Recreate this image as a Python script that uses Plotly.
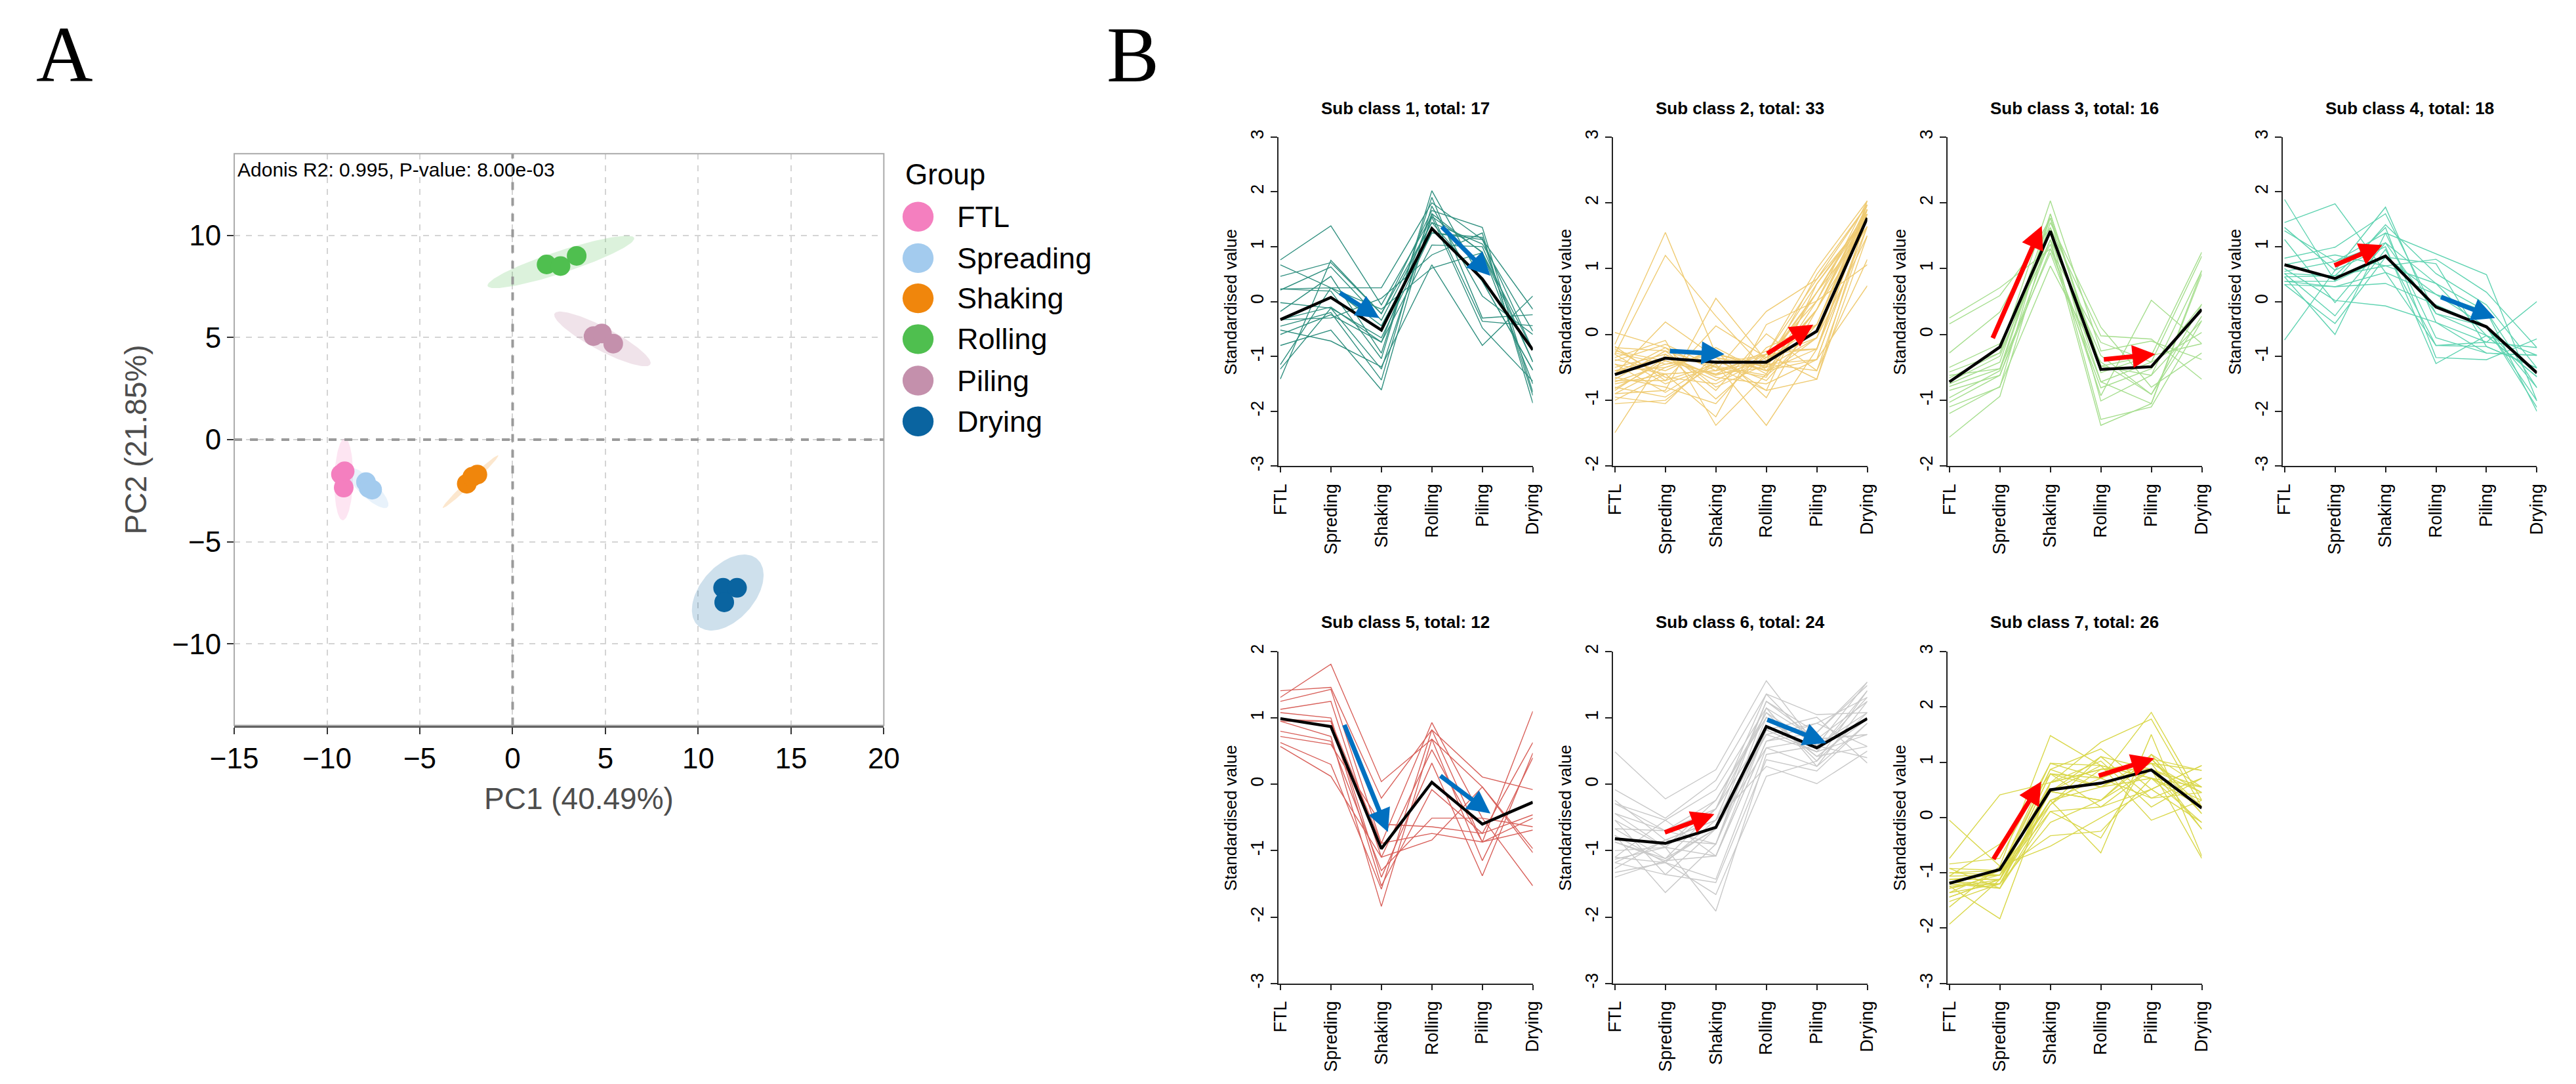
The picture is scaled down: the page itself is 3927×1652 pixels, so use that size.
import numpy as np
import plotly.graph_objects as go

W, H = 3927, 1652
# the page body keeps its default 8px margin, so the figure is drawn a bit smaller
PAD = 8
FW, FH = W - 2 * PAD, H - 2 * PAD

# ---------------- panel A : PCA ----------------
groups = ["FTL", "Spreading", "Shaking", "Rolling", "Piling", "Drying"]
group_colors = ["#F47FBF", "#A3CBEE", "#F0860C", "#4FBF4F", "#C490AC", "#0A64A0"]
group_fills = ["rgba(244,127,191,0.20)", "rgba(163,203,238,0.25)", "rgba(240,134,12,0.20)",
               "rgba(79,191,79,0.20)", "rgba(196,144,172,0.25)", "rgba(10,100,160,0.20)"]
pc1_scores = [[-9.25, -9.1, -9.05], [-7.9, -7.75, -7.57], [-2.47, -2.17, -1.9],
              [1.83, 2.58, 3.45], [4.36, 4.81, 5.42], [11.34, 12.09, 11.4]]
pc2_scores = [[-1.7, -2.35, -1.55], [-2.08, -2.37, -2.45], [-2.16, -1.82, -1.71],
              [8.58, 8.5, 9.0], [5.07, 5.2, 4.7], [-7.26, -7.26, -7.97]]
# confidence ellipses: centre, half major axis vector, half minor axis vector (data units)
ell_center = [(-9.1, -1.95), (-7.83, -2.35), (-2.27, -2.06), (2.6, 8.7), (4.84, 4.93), (11.59, -7.49)]
ell_major = [(0.05, 2.0), (1.06, -0.98), (1.49, 1.29), (3.94, 1.19), (2.56, -1.27), (1.32, 1.79)]
ell_minor = [(0.5, 0.0), (0.42, 0.22), (0.15, -0.08), (0.3, -0.48), (0.44, 0.43), (1.41, -0.51)]
pc1_label = "PC1 (40.49%)"
pc2_label = "PC2 (21.85%)"
adonis_text = "Adonis R2: 0.995, P-value: 8.00e-03"

# ---------------- panel B : sub classes ----------------
stages = ["FTL", "Spreding", "Shaking", "Rolling", "Piling", "Drying"]
sub_titles = ["Sub class 1, total: 17", "Sub class 2, total: 33", "Sub class 3, total: 16",
              "Sub class 4, total: 18", "Sub class 5, total: 12", "Sub class 6, total: 24",
              "Sub class 7, total: 26"]
sub_colors = ["#2F8F7F", "#EFCB73", "#A6DE8E", "#5FD3B1", "#D8605A", "#C8C8C8", "#D9D74A"]
sub_yrange = [(-3, 3), (-2, 3), (-2, 3), (-3, 3), (-3, 2), (-3, 2), (-3, 3)]

sub1_lines = [
    [0.76, 1.38, -0.06, 1.55, 0.9, -1.5], [0.67, 0.25, 0.25, 1.80, 1.13, -0.14],
    [0.46, 0.71, -0.22, 1.66, 1.35, -1.65], [0.23, 0.19, -1.04, 2.02, 0.37, -1.25],
    [0.21, 0.63, -0.34, 1.44, 1.05, -0.54], [-0.02, -0.12, -0.66, 1.25, 1.17, -1.71],
    [-0.18, 0.46, -0.94, 1.90, -0.30, -0.24], [-0.33, -0.30, 0.06, 0.85, 1.25, -1.85],
    [-0.45, -0.20, -1.43, 1.74, 0.10, -0.60], [-0.52, -0.72, -1.19, 0.67, -0.80, 0.10],
    [-0.60, -0.24, -0.74, 1.03, 1.00, -1.10], [-0.80, -0.52, -1.61, 1.60, -0.36, -0.44],
    [-1.15, 0.25, -0.14, 0.61, 0.89, -0.88], [-1.23, -0.12, -1.23, 1.54, -0.48, -1.45],
    [-1.41, 0.75, -0.22, 1.44, 0.37, -1.25], [0.23, 0.25, -0.44, 1.25, 1.13, -0.88],
    [-0.33, -0.10, -0.74, 1.60, 0.89, -1.10]]
sub1_mean = [-0.33, 0.075, -0.52, 1.33, 0.41, -0.88]

sub2_lines = [
    [-0.15, 1.55, -0.30, -0.45, 0.64, 1.83], [-0.30, 1.20, 0.28, -0.55, 0.38, 1.64],
    [0.03, -0.20, -0.55, 0.35, 0.84, 1.97], [-0.90, -0.85, 0.55, -0.40, 0.15, 1.90],
    [-1.49, -0.30, -0.98, -0.30, 1.00, 2.03], [-0.60, 0.19, -0.35, -0.85, 0.77, 1.77],
    [-0.45, -0.60, -1.25, 0.15, 0.51, 1.83], [-0.80, -0.95, -0.45, -1.38, -0.22, 1.90],
    [-0.25, -0.40, -0.60, -0.50, 0.91, 1.97], [-0.70, -0.70, 0.13, -0.35, -0.05, 1.50],
    [-0.35, -0.09, -1.38, -0.60, 0.64, 1.64], [-1.05, -1.00, -0.40, -0.45, -0.38, 1.77],
    [-0.20, -0.25, -0.85, 0.01, -0.55, 1.14], [-0.55, -0.50, -0.25, -0.96, 0.38, 1.90],
    [-0.85, -0.35, -0.70, -0.30, -0.68, 1.83], [-0.40, -0.15, -0.50, -0.65, 0.51, 1.06],
    [-0.65, -0.80, -1.05, -0.20, 0.15, 1.97], [-0.28, -0.45, -0.35, -0.55, -0.22, 2.03],
    [-0.75, -0.60, -0.55, -0.40, 0.77, 1.83], [-0.50, -0.30, -0.65, -0.75, -0.38, 0.74],
    [-0.95, -1.05, -0.30, -0.50, -0.05, 1.90], [-0.18, -0.70, -0.45, -0.30, 0.84, 1.77],
    [-0.60, -0.20, -0.80, -0.45, -0.55, 1.64], [-0.38, -0.55, -0.20, -0.60, 0.38, 1.97],
    [-0.82, -0.40, -0.60, -0.25, -0.22, 1.90], [-0.45, -0.88, -0.40, -0.70, 0.15, 1.83],
    [-0.68, -0.25, -0.50, -0.85, -0.68, 1.50], [-0.22, -0.65, -0.75, -0.35, 0.51, 2.03],
    [-0.90, -0.50, -0.28, -0.55, -0.38, 1.77], [-0.55, -0.35, -0.62, -0.40, 0.64, 1.90],
    [-0.30, -0.75, -0.48, -0.62, -0.05, 1.97], [-0.72, -0.45, -0.35, -0.48, 0.38, 1.83],
    [-1.00, -0.60, -0.55, -0.30, -0.22, 1.64]]
sub2_mean = [-0.61, -0.36, -0.42, -0.42, 0.05, 1.77]

sub3_lines = [
    [0.25, 0.71, 1.30, -0.12, -0.42, 1.19], [0.16, 0.59, 1.62, -0.02, -0.07, -0.68],
    [-0.28, 0.34, 1.77, -0.48, -0.62, 0.97], [-0.50, -0.14, 1.37, -0.93, 0.52, -0.14],
    [-0.57, -0.28, 2.03, -0.25, -0.10, -0.38], [-0.72, -0.33, 1.54, -1.29, -1.10, 0.21],
    [-0.75, -0.42, 1.83, -0.58, -0.32, 1.25], [-0.79, -0.52, 1.24, -0.81, -0.52, 0.46],
    [-0.96, -0.55, 1.70, 0.11, -0.80, -0.28], [-1.03, -0.62, 1.44, -1.38, -1.05, 0.92],
    [-1.20, -0.79, 1.04, -0.42, -0.91, 0.28], [-1.56, -0.94, 1.62, -0.72, -0.42, 0.03],
    [-0.62, -0.52, 1.77, -1.01, -0.62, 0.21], [-0.66, -0.28, 1.44, -0.32, -0.91, 0.46],
    [-0.85, -0.62, 1.30, -0.72, -1.05, 0.97], [-1.10, -0.80, 1.83, -0.48, -0.32, -0.14]]
sub3_mean = [-0.72, -0.19, 1.57, -0.53, -0.49, 0.38]

sub4_lines = [
    [1.86, 0.37, 1.40, 0.51, -0.06, -1.21], [1.44, 1.78, 0.53, 0.13, -0.46, -1.93],
    [1.35, 0.57, 1.72, -0.38, -0.94, -0.98], [1.29, 0.73, 1.25, 0.87, 0.49, -1.81],
    [1.13, -0.02, 1.07, 0.33, -0.18, -2.00], [0.79, 0.99, 1.60, -0.22, -0.62, -1.37],
    [0.67, 0.85, 0.65, 0.77, 0.17, -0.84], [0.51, -0.26, 0.95, -0.80, -0.74, 0.00],
    [0.45, 0.47, 1.35, -1.02, -1.06, -0.68], [0.37, 0.27, 0.33, -0.06, -0.46, -1.57],
    [0.31, -0.40, 0.81, 0.69, -0.82, -1.21], [-0.70, 0.57, 1.00, -1.13, -0.62, -1.37],
    [0.60, 0.02, -0.08, -0.38, -0.74, -0.84], [0.45, -0.60, 1.25, -0.66, -0.94, -0.98],
    [0.37, 0.37, 0.81, 0.13, -0.18, -1.57], [0.55, 0.73, 1.07, -0.22, -0.46, -1.81],
    [0.31, 0.27, 0.53, -0.80, -0.82, -1.21], [0.51, 0.47, 0.65, 0.33, -0.62, -0.98]]
sub4_mean = [0.67, 0.42, 0.83, -0.10, -0.46, -1.30]

sub5_lines = [
    [1.41, 1.46, -0.21, 0.82, 0.11, -0.08], [1.31, 1.81, 0.04, 0.68, -0.04, -0.97],
    [1.25, 1.43, -0.89, 0.93, -0.51, -1.53], [1.13, 1.25, -1.10, 0.52, -0.87, 1.10],
    [1.08, 1.00, -1.40, 0.32, -1.38, 0.47], [0.98, 0.95, -1.53, -0.08, -0.74, 0.63],
    [0.95, 0.72, -1.84, 0.68, -1.15, 0.40], [0.80, 0.65, -1.30, -0.51, -0.51, -0.64],
    [0.72, 0.60, -0.60, -0.64, -0.74, -0.46], [0.63, 0.30, -1.58, 0.82, -0.87, -0.69],
    [0.57, 0.12, -1.10, -0.84, -0.04, -1.03], [0.95, 0.95, -0.89, -0.74, -0.87, -0.51]]
sub5_mean = [0.99, 0.87, -0.97, 0.03, -0.60, -0.27]

sub6_lines = [
    [0.49, -0.22, 0.22, 1.56, 0.58, 1.54], [-0.08, -0.51, 0.06, 1.36, 1.05, 1.08],
    [-0.24, -0.84, -0.54, 1.25, 0.78, 1.49], [-0.29, -0.54, -0.08, 1.15, 0.68, 0.75],
    [-0.44, -0.70, -0.24, 1.08, 0.35, 1.41], [-0.54, -0.95, -0.37, 0.82, 1.01, 0.32],
    [-0.67, -1.12, -0.67, 0.75, 0.49, 1.31], [-0.77, -1.63, -0.90, 1.01, 0.42, 0.98],
    [-0.87, -1.15, -1.08, 0.65, 0.92, 0.57], [-1.10, -1.18, -1.43, 0.55, 0.27, 1.25],
    [-1.13, -0.95, -1.91, 0.45, 0.58, 0.40], [-1.18, -1.36, -1.48, 0.37, 0.20, 0.92],
    [-1.27, -0.84, -0.54, 0.27, 0.01, 0.50], [-1.33, -1.18, -1.66, 0.12, 0.35, 1.08],
    [-1.40, -1.15, -0.67, 1.25, 0.68, 0.75], [-0.67, -0.70, -0.90, 0.82, 0.49, 1.41],
    [-0.87, -1.12, -0.37, 1.08, 0.58, 0.98], [-1.10, -0.54, -1.08, 0.65, 0.78, 1.54],
    [-0.44, -0.95, -0.24, 1.01, 0.42, 0.57], [-0.77, -1.18, -0.54, 0.75, 0.92, 1.31],
    [-1.18, -0.84, -0.90, 1.15, 0.27, 0.92], [-0.54, -1.36, -0.67, 0.55, 0.68, 1.25],
    [-1.00, -0.95, -1.08, 0.82, 0.49, 0.75], [-0.29, -0.70, -0.37, 1.36, 0.58, 1.08]]
sub6_mean = [-0.82, -0.89, -0.65, 0.87, 0.55, 0.99]

sub7_lines = [
    [-0.05, -0.88, 1.48, 0.94, 0.71, 0.55], [-0.74, 0.41, 0.63, 1.36, 1.78, 0.19],
    [-0.84, -0.74, 0.98, 0.71, 1.90, 0.31], [-0.92, -0.96, 0.87, 1.24, 0.51, 0.94],
    [-1.00, -1.04, 0.31, -0.64, 1.50, -0.70], [-1.06, -0.48, 0.79, 0.55, 0.98, 0.85],
    [-1.12, -1.12, 0.47, 1.10, 0.35, 0.45], [-1.16, -1.20, -0.09, 0.31, 1.06, 0.07],
    [-1.20, -1.28, 0.23, 0.87, 0.87, -0.21], [-1.24, -1.83, 0.63, 1.02, 0.19, 0.71],
    [-1.28, -1.04, 0.11, -0.37, 1.14, 0.55], [-1.36, -0.96, -0.33, -0.25, 0.71, 0.19],
    [-1.44, -1.12, 0.79, 0.19, 0.87, -0.74], [-1.52, -1.20, 0.47, 0.94, -0.05, 0.31],
    [-1.62, -0.88, -0.52, -0.01, 0.51, 0.94], [-1.93, -1.12, 0.31, 0.71, 1.06, 0.85],
    [-1.16, -1.28, 0.63, 0.87, 0.98, 0.45], [-1.06, -1.04, 0.87, 0.55, 0.71, -0.09],
    [-1.24, -1.20, 0.47, 0.31, 1.14, 0.07], [-1.00, -0.96, 0.23, 1.10, 0.87, 0.55],
    [-1.28, -1.12, 0.79, 0.71, 0.35, 0.71], [-1.12, -1.04, 0.63, 0.87, 0.98, -0.21],
    [-1.36, -1.20, 0.31, 0.55, 1.06, 0.19], [-1.20, -0.96, 0.98, 0.94, 0.71, 0.31],
    [-0.92, -1.28, 0.11, 0.19, 0.51, -0.09], [-1.44, -1.12, 0.47, 0.31, 0.87, 0.45]]
sub7_mean = [-1.19, -0.94, 0.50, 0.62, 0.86, 0.17]

sub_lines = [sub1_lines, sub2_lines, sub3_lines, sub4_lines, sub5_lines, sub6_lines, sub7_lines]
sub_means = [sub1_mean, sub2_mean, sub3_mean, sub4_mean, sub5_mean, sub6_mean, sub7_mean]

# trend arrows: (panel, x from, y from, x to, y to, colour)
arrow_panel = [0, 0, 1, 1, 2, 2, 3, 3, 4, 4, 5, 5, 6, 6]
arrow_x0 = [1.16, 3.18, 1.07, 3.0, 0.85, 3.04, 0.97, 3.08, 1.26, 3.15, 0.97, 3.0, 0.86, 2.94]
arrow_y0 = [0.17, 1.38, -0.25, -0.30, -0.07, -0.38, 0.65, 0.09, 0.91, 0.14, -0.73, 0.98, -0.77, 0.75]
arrow_x1 = [1.96, 4.16, 2.17, 3.93, 1.83, 4.08, 1.94, 4.17, 2.13, 4.16, 1.97, 4.19, 1.82, 4.06]
arrow_y1 = [-0.30, 0.47, -0.30, 0.15, 1.65, -0.30, 1.03, -0.30, -0.72, -0.44, -0.45, 0.62, 0.65, 1.07]
arrow_color = ["#0070C0", "#0070C0", "#0070C0", "#FF0000", "#FF0000", "#FF0000", "#FF0000",
               "#0070C0", "#0070C0", "#0070C0", "#FF0000", "#0070C0", "#FF0000", "#FF0000"]

# panel geometry in page pixels
col_left = [1942, 2460, 2978, 3497]
panel_w = 394
row_top = [199, 993]
row_bot = [707, 1505]
row_title = [155, 947]

FONT = "Liberation Sans, Arial, sans-serif"


def fx(p):
    return (p - PAD) / FW


def fy(p):
    return 1 - (p - PAD) / FH


fig = go.Figure()
annotations = []
shapes = []

# ---- PCA ellipses and points
t = np.linspace(0, 2 * np.pi, 120)
for i, g in enumerate(groups):
    cx, cy = ell_center[i]
    ux, uy = ell_major[i]
    vx, vy = ell_minor[i]
    fig.add_trace(go.Scatter(x=cx + ux * np.cos(t) + vx * np.sin(t),
                             y=cy + uy * np.cos(t) + vy * np.sin(t),
                             mode="lines", fill="toself", fillcolor=group_fills[i],
                             line=dict(width=0), showlegend=False, hoverinfo="skip",
                             xaxis="x", yaxis="y"))
for i, g in enumerate(groups):
    fig.add_trace(go.Scatter(x=pc1_scores[i], y=pc2_scores[i], mode="markers", name=g,
                             marker=dict(size=30, color=group_colors[i]),
                             showlegend=False, xaxis="x", yaxis="y"))

pca_box = (325, 1331, 225, 1107)
layout_axes = dict(
    xaxis=dict(domain=[fx(pca_box[0]), fx(pca_box[1])], range=[-15, 20],
               tickvals=list(range(-15, 21, 5)), showgrid=True, gridcolor="#D4D4D4",
               griddash="dash", gridwidth=2, zeroline=False, ticks="outside", ticklen=10,
               tickwidth=2, tickcolor="#333333", showline=True, linecolor="#555555",
               linewidth=3, tickfont=dict(size=44, color="black", family=FONT), anchor="y"),
    yaxis=dict(domain=[fy(pca_box[3]), fy(pca_box[2])], range=[-14, 14],
               tickvals=[-10, -5, 0, 5, 10], showgrid=True, gridcolor="#D4D4D4",
               griddash="dash", gridwidth=2, zeroline=False, ticks="outside", ticklen=10,
               tickwidth=2, tickcolor="#333333", showline=False,
               tickfont=dict(size=44, color="black", family=FONT), anchor="x"),
)
# grey frame and the dashed zero lines
shapes.append(dict(type="rect", xref="paper", yref="paper", x0=fx(pca_box[0]), x1=fx(pca_box[1]),
                   y0=fy(pca_box[3]), y1=fy(pca_box[2]), line=dict(color="#AAAAAA", width=2),
                   layer="above"))
shapes.append(dict(type="line", xref="x", yref="y", x0=0, x1=0, y0=-14, y1=14,
                   line=dict(color="#9A9A9A", width=4, dash="dash")))
shapes.append(dict(type="line", xref="x", yref="y", x0=-15, x1=20, y0=0, y1=0,
                   line=dict(color="#9A9A9A", width=4, dash="dash")))

annotations.append(dict(text=adonis_text, xref="paper", yref="paper", x=fx(328), y=fy(249),
                        xanchor="left", yanchor="middle", showarrow=False,
                        font=dict(size=30, color="black", family=FONT)))
annotations.append(dict(text=pc1_label, xref="paper", yref="paper", x=fx(859), y=fy(1220),
                        xanchor="center", yanchor="middle", showarrow=False,
                        font=dict(size=46, color="#4D4D4D", family=FONT)))
annotations.append(dict(text=pc2_label, xref="paper", yref="paper", x=fx(173), y=fy(666),
                        xanchor="center", yanchor="middle", showarrow=False, textangle=-90,
                        font=dict(size=46, color="#4D4D4D", family=FONT)))

# manual legend
annotations.append(dict(text="Group", xref="paper", yref="paper", x=fx(1362), y=fy(257),
                        xanchor="left", yanchor="middle", showarrow=False,
                        font=dict(size=44, color="black", family=FONT)))
legend_y = [322, 386, 448, 511, 575, 638]
for i, g in enumerate(groups):
    shapes.append(dict(type="circle", xref="paper", yref="paper",
                       x0=fx(1384 - 24), x1=fx(1384 + 24), y0=fy(legend_y[i] + 23),
                       y1=fy(legend_y[i] - 23), fillcolor=group_colors[i], line=dict(width=0)))
    annotations.append(dict(text=g, xref="paper", yref="paper", x=fx(1442), y=fy(legend_y[i]),
                            xanchor="left", yanchor="middle", showarrow=False,
                            font=dict(size=45, color="black", family=FONT)))

# panel letters
annotations.append(dict(text="A", xref="paper", yref="paper", x=fx(16), y=fy(72),
                        xanchor="left", yanchor="middle", showarrow=False,
                        font=dict(size=120, color="black", family="Liberation Serif, serif")))
annotations.append(dict(text="B", xref="paper", yref="paper", x=fx(1674), y=fy(72),
                        xanchor="left", yanchor="middle", showarrow=False,
                        font=dict(size=120, color="black", family="Liberation Serif, serif")))

# ---- sub class panels
xs = list(range(len(stages)))
for k in range(len(sub_titles)):
    n = k + 2
    r, c = divmod(k, 4)
    left = col_left[c]
    top, bot = row_top[r], row_bot[r]
    ax_x, ax_y = "x%d" % n, "y%d" % n
    lo, hi = sub_yrange[k]
    yt = list(range(lo, hi + 1))
    layout_axes["xaxis%d" % n] = dict(
        domain=[fx(left), fx(left + panel_w)], range=[-0.04, 5], tickvals=xs, ticktext=stages,
        tickangle=-90, ticks="outside", ticklen=8, tickwidth=2, tickcolor="#222222",
        ticklabelstandoff=6,
        showline=True, linecolor="#222222", linewidth=2, showgrid=False, zeroline=False,
        tickfont=dict(size=27, color="black", family=FONT), anchor=ax_y)
    layout_axes["yaxis%d" % n] = dict(
        domain=[fy(bot), fy(top)], range=[lo, hi], tickvals=yt, ticktext=[str(v) for v in yt],
        tickangle=-90, ticks="outside", ticklen=10, tickwidth=2, tickcolor="#222222",
        showline=True, linecolor="#222222", linewidth=2, showgrid=False, zeroline=False,
        tickfont=dict(size=27, color="black", family=FONT), anchor=ax_x)
    for vals in sub_lines[k]:
        fig.add_trace(go.Scatter(x=xs, y=vals, mode="lines",
                                 line=dict(color=sub_colors[k], width=1.4),
                                 showlegend=False, hoverinfo="skip", xaxis=ax_x, yaxis=ax_y))
    fig.add_trace(go.Scatter(x=xs, y=sub_means[k], mode="lines",
                             line=dict(color="black", width=4.5),
                             showlegend=False, hoverinfo="skip", xaxis=ax_x, yaxis=ax_y))
    annotations.append(dict(text="<b>%s</b>" % sub_titles[k], xref="paper", yref="paper",
                            x=fx(left + panel_w / 2), y=fy(row_title[r]), xanchor="center",
                            yanchor="middle", showarrow=False,
                            font=dict(size=26, color="black", family=FONT)))
    annotations.append(dict(text="Standardised value", xref="paper", yref="paper",
                            x=fx(left - 74), y=fy((top + bot) / 2), xanchor="center",
                            yanchor="middle", showarrow=False, textangle=-90,
                            font=dict(size=26, color="black", family=FONT)))

for j in range(len(arrow_panel)):
    n = arrow_panel[j] + 2
    annotations.append(dict(x=arrow_x1[j], y=arrow_y1[j], ax=arrow_x0[j], ay=arrow_y0[j],
                            xref="x%d" % n, yref="y%d" % n, axref="x%d" % n, ayref="y%d" % n,
                            text="", showarrow=True, arrowhead=2, arrowsize=1,
                            arrowwidth=7, arrowcolor=arrow_color[j]))

fig.update_layout(width=FW, height=FH, margin=dict(l=0, r=0, t=0, b=0),
                  paper_bgcolor="white", plot_bgcolor="white",
                  font=dict(family=FONT), showlegend=False,
                  annotations=annotations, shapes=shapes, **layout_axes)

fig.write_html("out.html")
